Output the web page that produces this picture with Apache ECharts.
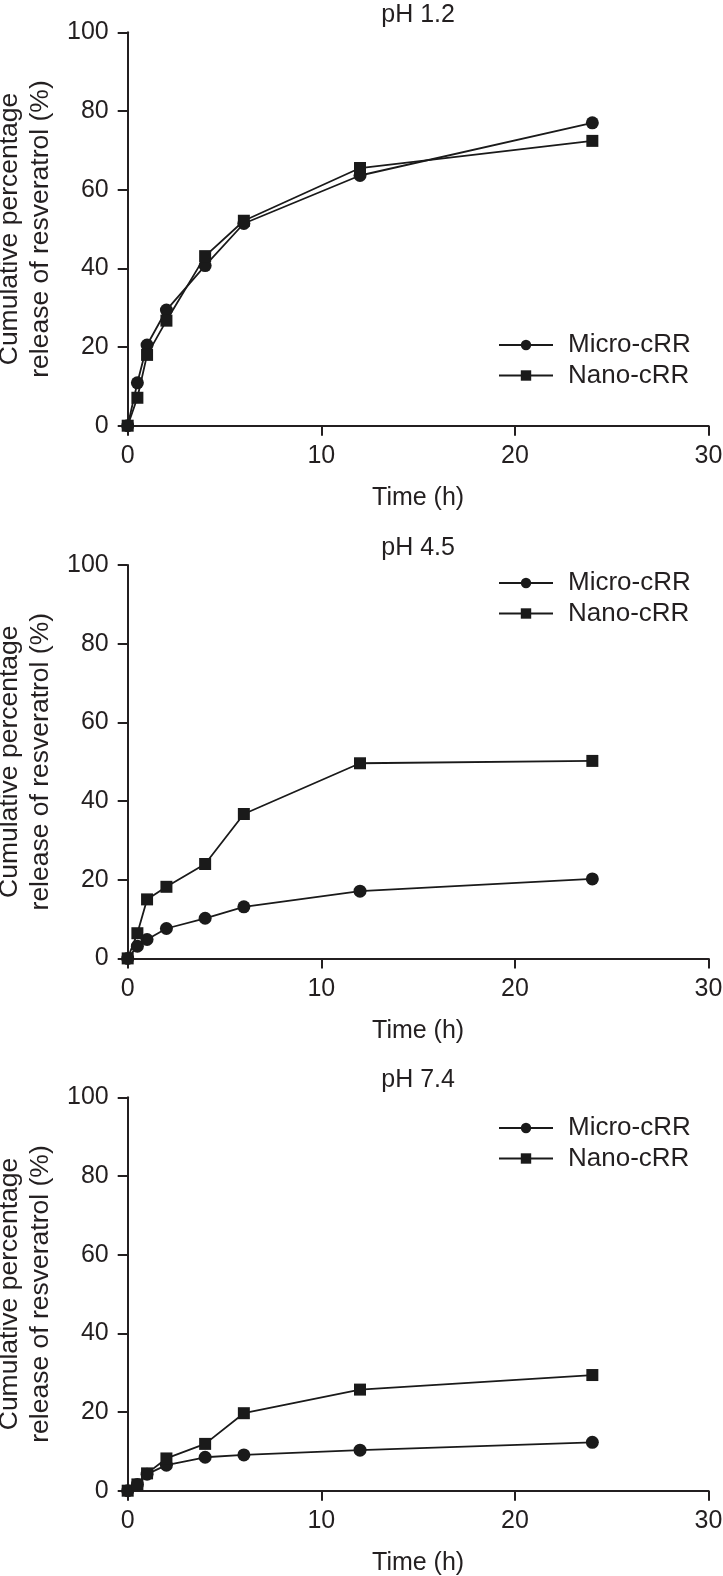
<!DOCTYPE html>
<html>
<head>
<meta charset="utf-8">
<script src="https://cdn.jsdelivr.net/npm/echarts@6/dist/echarts.min.js"></script>
<style>
html,body{margin:0;padding:0;background:#fff;}
#chart{width:723px;height:1576px;}
</style>
</head>
<body>
<div id="chart"></div>
<script>
// ---- data ----
const timeH = [0, 0.5, 1, 2, 4, 6, 12, 24];
const panelTitles = ['pH 1.2', 'pH 4.5', 'pH 7.4'];
const seriesNames = ['Micro-cRR', 'Nano-cRR'];
const micro_pH12 = [0, 10.9, 20.5, 29.4, 40.7, 51.4, 63.6, 77.0];
const nano_pH12  = [0, 7.1, 18.0, 26.7, 43.1, 52.1, 65.5, 72.4];
const micro_pH45 = [0, 3.1, 4.8, 7.6, 10.2, 13.1, 17.1, 20.2];
const nano_pH45  = [0, 6.4, 15.0, 18.2, 24.0, 36.7, 49.6, 50.2];
const micro_pH74 = [0, 1.6, 4.2, 6.5, 8.5, 9.1, 10.3, 12.3];
const nano_pH74  = [0, 1.6, 4.4, 8.2, 11.9, 19.7, 25.7, 29.4];
const xTicks = [0, 10, 20, 30];
const yTicks = [0, 20, 40, 60, 80, 100];
const xAxisName = 'Time (h)';
const yAxisName = 'Cumulative percentage\nrelease of resveratrol (%)';

// ---- layout / style ----
const FONT = "'Liberation Sans', Arial, Helvetica, sans-serif";
const INK = '#231f20';
const gridTops = [32.3, 565, 1097.3];
const gridLeft = 127.7, gridWidth = 580.8, gridHeight = 393.4;
const legendTops = [328, 566, 1111];
const panels = [
  [micro_pH12, nano_pH12],
  [micro_pH45, nano_pH45],
  [micro_pH74, nano_pH74]
];

const grids = [], xAxes = [], yAxes = [], series = [], legends = [], graphics = [];
panels.forEach((pair, p) => {
  grids.push({left: gridLeft, top: gridTops[p], width: gridWidth, height: gridHeight,
              containLabel: false, outerBoundsMode: 'none'});
  xAxes.push({
    type: 'value', gridIndex: p, min: xTicks[0], max: xTicks[xTicks.length - 1], interval: 10,
    name: xAxisName, nameLocation: 'middle', nameGap: 60,
    nameTextStyle: {fontFamily: FONT, fontSize: 25, color: INK},
    axisLine: {show: true, onZero: false, lineStyle: {color: INK, width: 2}},
    axisTick: {show: true, length: 10, inside: false, lineStyle: {color: INK, width: 2}},
    axisLabel: {fontFamily: FONT, fontSize: 25, color: INK, margin: 18},
    splitLine: {show: false}
  });
  yAxes.push({
    type: 'value', gridIndex: p, min: yTicks[0], max: yTicks[yTicks.length - 1], interval: 20,
    name: yAxisName, nameLocation: 'middle', nameGap: 64,
    nameTextStyle: {fontFamily: FONT, fontSize: 26.5, color: INK, lineHeight: 31},
    axisLine: {show: true, onZero: false, lineStyle: {color: INK, width: 2}},
    axisTick: {show: true, length: 10, inside: false, lineStyle: {color: INK, width: 2}},
    axisLabel: {fontFamily: FONT, fontSize: 25, color: INK, margin: 19},
    splitLine: {show: false}
  });
  pair.forEach((vals, s) => {
    series.push({
      type: 'line', name: seriesNames[s], xAxisIndex: p, yAxisIndex: p,
      data: timeH.map((t, i) => [t, vals[i]]),
      symbol: s === 0 ? 'circle' : 'rect',
      symbolSize: s === 0 ? 13 : 12,
      showAllSymbol: true, clip: false, animation: false,
      lineStyle: {color: '#1a1a1a', width: 1.8},
      itemStyle: {color: '#1a1a1a'}
    });
  });
  legends.push({
    data: seriesNames, orient: 'vertical', left: 498, top: legendTops[p] + 4, padding: 0,
    itemWidth: 54, itemHeight: 13, itemGap: 4.5, selectedMode: false,
    textStyle: {fontFamily: FONT, fontSize: 26, color: INK, lineHeight: 25, padding: [0, 0, 0, 10]}
  });
  graphics.push({
    type: 'text', x: gridLeft + gridWidth / 2, y: gridTops[p] - 17,
    style: {text: panelTitles[p], font: '25px ' + FONT, fill: INK, textAlign: 'center', textVerticalAlign: 'middle'}
  });
});

const chart = echarts.init(document.getElementById('chart'), null, {renderer: 'canvas'});
chart.setOption({
  backgroundColor: '#ffffff',
  animation: false,
  grid: grids, xAxis: xAxes, yAxis: yAxes, series: series, legend: legends,
  graphic: graphics
});
</script>
</body>
</html>
